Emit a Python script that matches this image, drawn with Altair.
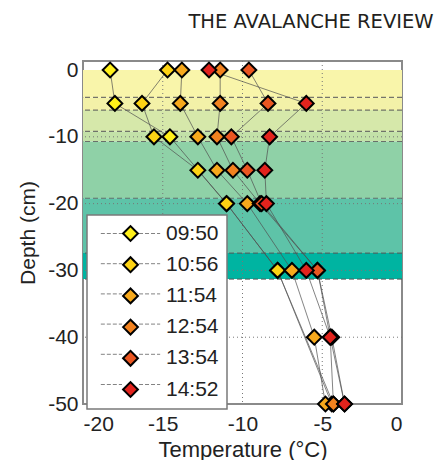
import altair as alt
import pandas as pd

# ---------------- data ----------------
series_names = ["09:50", "10:56", "11:54", "12:54", "13:54", "14:52"]
series_colors = ["#fff01a", "#fdd314", "#f7a91c", "#f2821f", "#ea5621", "#e2231d"]
depths = [0, -5, -10, -15, -20, -30, -40, -50]
temp_0950 = [-18.3, -18.0, -14.55, None, -11.0, -7.8, None, -4.3]
temp_1056 = [-14.7, -16.3, -15.55, -12.8, -11.0, -7.8, None, -4.4]
temp_1154 = [-13.8, -13.9, -12.8, -11.6, -9.7, -6.9, -5.5, -4.8]
temp_1254 = [-11.4, -11.4, -11.6, -10.6, -8.9, -5.3, -4.5, -4.3]
temp_1354 = [-9.6, -8.4, -10.7, -9.7, -8.8, -5.3, -4.4, -3.6]
temp_1452 = [-12.1, -6.0, -8.3, -8.6, -8.5, -6.0, -4.5, -3.6]

band_names = ["b1", "b2", "b3", "b4", "b5", "b6", "b7"]
band_top = [0, -4.1, -6.0, -9.2, -10.7, -19.2, -27.4]
band_bottom = [-4.1, -6.0, -9.2, -10.7, -19.2, -27.4, -31.3]
band_colors = ["#f9f5aa", "#f3f1a8", "#d6e8aa", "#c3e1a8", "#8fd1a7", "#5ec3a8", "#00b4a1"]
layer_boundaries = [-4.1, -6.0, -9.2, -10.7, -19.2, -27.4, -31.3]

x_ticks = [-20, -15, -10, -5, 0]
y_ticks = [0, -10, -20, -30, -40, -50]
grid_x = [-15, -10, -5]
grid_y = [-10, -20, -30, -40]

# ---------------- tables ----------------
rows = []
for name, temps in zip(series_names,
                       [temp_0950, temp_1056, temp_1154, temp_1254, temp_1354, temp_1452]):
    for i, (d, t) in enumerate(zip(depths, temps)):
        if t is not None:
            rows.append({"series": name, "series_l": name, "depth": d, "temp": t, "idx": i})
prof = pd.DataFrame(rows)
bands = pd.DataFrame({"band": band_names, "top": band_top, "bottom": band_bottom})
bounds = pd.DataFrame({"depth": layer_boundaries})
gx = pd.DataFrame({"temp": grid_x})
gy = pd.DataFrame({"depth": grid_y})

W, H = 319, 343
FONT = "Liberation Sans"

xscale = alt.Scale(domain=[-20, 0], nice=False, zero=False)
yscale = alt.Scale(domain=[-50, 1.35], nice=False, zero=False)
xaxis = alt.Axis(values=x_ticks, grid=False, ticks=False, domain=False,
                 labelExpr="datum.value + ''",
                 labelFontSize=21, labelFont=FONT, labelColor="#222", labelPadding=9,
                 title="Temperature (°C)", titleFontSize=22, titleFont=FONT,
                 titleFontWeight="normal", titleColor="#222", titlePadding=5)
yaxis = alt.Axis(values=y_ticks, grid=False, ticks=False, domain=False,
                 labelExpr="datum.value + ''",
                 labelFontSize=21, labelFont=FONT, labelColor="#222", labelPadding=5,
                 title="Depth (cm)", titleFontSize=21, titleFont=FONT,
                 titleFontWeight="normal", titleColor="#222", titlePadding=9)

def X(field):
    return alt.X(field, type="quantitative", scale=xscale, axis=xaxis)

def Y(field):
    return alt.Y(field, type="quantitative", scale=yscale, axis=yaxis)

band_layer = alt.Chart(bands).mark_rect().encode(
    y=Y("top"), y2="bottom",
    x=alt.value(0), x2=alt.value(W),
    color=alt.Color("band:N", scale=alt.Scale(domain=band_names, range=band_colors), legend=None),
)

grid_v = alt.Chart(gx).mark_rule(color="#777", strokeWidth=1, strokeDash=[1, 3]).encode(x=X("temp"))
grid_h = alt.Chart(gy).mark_rule(color="#777", strokeWidth=1, strokeDash=[1, 3]).encode(y=Y("depth"))

bound_layer = alt.Chart(bounds).mark_rule(color="#555", strokeWidth=1.2, strokeDash=[5, 3], opacity=0.8).encode(
    y=Y("depth")
)

common_leg = dict(title=None, orient="none", legendX=4, legendY=154, direction="vertical",
                  symbolSize=220, symbolOffset=25, labelOffset=25, labelFontSize=21,
                  labelFont=FONT, labelColor="#222", rowPadding=8.2, padding=8)

# legend of the lines: dashed segments either side of the marker, drawn on top, no label text
line_layer = alt.Chart(prof).mark_line(strokeWidth=1, opacity=0.7).encode(
    x=X("temp"), y=Y("depth"),
    stroke=alt.Stroke("series_l:N", scale=alt.Scale(domain=series_names, range=["#505050"] * 6),
                      legend=alt.Legend(symbolType="M-4,0H-1.15M1.15,0H4", symbolStrokeWidth=1,
                                        symbolDash=[4, 2], labelExpr="''",
                                        zindex=1, **common_leg)),
    order=alt.Order("idx:Q"),
)

# fill scale domain comes from the data (sorted times) so its legend stays separate
point_layer = alt.Chart(prof).mark_point(shape="diamond", filled=True, size=220, stroke="black",
                                         strokeWidth=2, opacity=1).encode(
    x=X("temp"), y=Y("depth"),
    fill=alt.Fill("series:N", scale=alt.Scale(range=series_colors),
                  legend=alt.Legend(symbolType="diamond", symbolStrokeColor="black",
                                    symbolStrokeWidth=2, symbolOpacity=1,
                                    fillColor="white", strokeColor="#7a7a7a",
                                    zindex=0, **common_leg)),
)

chart = alt.layer(band_layer, grid_v, grid_h, bound_layer, line_layer, point_layer).properties(
    width=W, height=H,
    title=alt.Title("THE AVALANCHE REVIEW", anchor="end", dx=31, offset=26,
                    font="DejaVu Sans", fontSize=19.5, fontWeight="normal", color="#231f20"),
    autosize=alt.AutoSizeParams(type="none"),
    padding={"left": 75, "top": 53, "right": 32, "bottom": 56},
).configure_view(stroke="#8a8a8a", strokeWidth=2).configure_legend(strokeWidth=1.5)

chart.save("out.html", embed_options={"renderer": "svg", "actions": False})
